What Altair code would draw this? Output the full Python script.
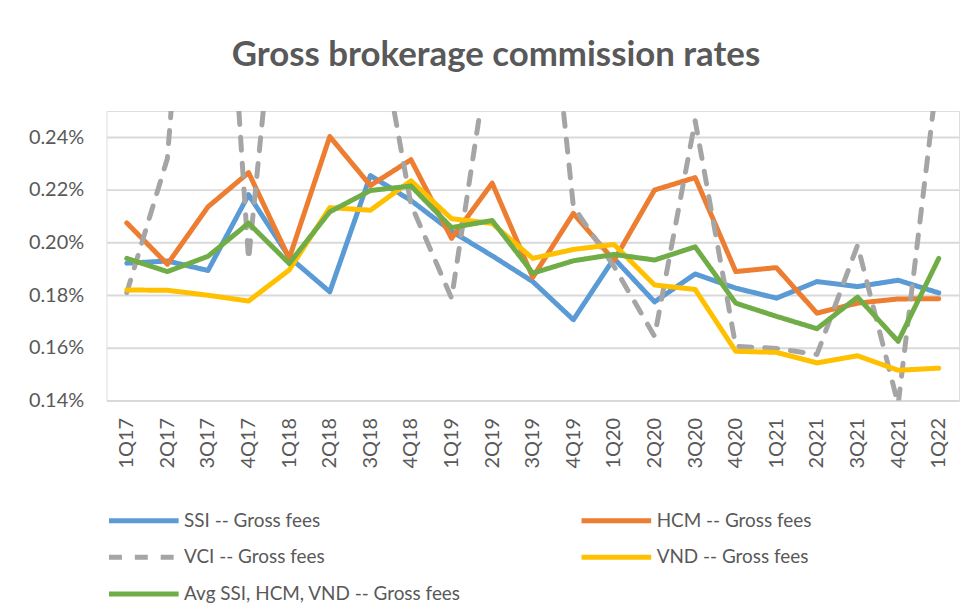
import altair as alt
import pandas as pd

FONT = "Lato"
TEXT = "#595959"

quarters = ["1Q17", "2Q17", "3Q17", "4Q17", "1Q18", "2Q18", "3Q18", "4Q18",
            "1Q19", "2Q19", "3Q19", "4Q19", "1Q20", "2Q20", "3Q20", "4Q20",
            "1Q21", "2Q21", "3Q21", "4Q21", "1Q22"]

series_names = ["SSI -- Gross fees", "HCM -- Gross fees", "VCI -- Gross fees",
                "VND -- Gross fees", "Avg SSI, HCM, VND -- Gross fees"]

# values in percent
ssi = [0.1922, 0.1930, 0.1894, 0.2182, 0.1945, 0.1813, 0.2255, 0.2160, 0.2043, 0.1950, 0.1852,
       0.1707, 0.1940, 0.1775, 0.1881, 0.1827, 0.1789, 0.1852, 0.1833, 0.1857, 0.1809]
hcm = [0.2075, 0.1918, 0.2136, 0.2266, 0.1940, 0.2403, 0.2217, 0.2315, 0.2016, 0.2226, 0.1868,
       0.2111, 0.1932, 0.2200, 0.2247, 0.1890, 0.1905, 0.1732, 0.1770, 0.1786, 0.1787]
vci = [0.1810, 0.2320, 0.4300, 0.1934, 0.3500, 0.3200, 0.3000, 0.2145, 0.1789, 0.2800, 0.3620,
       0.2137, 0.1910, 0.1644, 0.2463, 0.1606, 0.1598, 0.1575, 0.1990, 0.1385, 0.2680]
vnd = [0.1820, 0.1819, 0.1800, 0.1778, 0.1896, 0.2133, 0.2123, 0.2235, 0.2091, 0.2073, 0.1940,
       0.1974, 0.1993, 0.1839, 0.1822, 0.1587, 0.1583, 0.1543, 0.1570, 0.1515, 0.1523]
avg = [0.1940, 0.1890, 0.1948, 0.2074, 0.1921, 0.2117, 0.2198, 0.2215, 0.2057, 0.2084, 0.1884,
       0.1931, 0.1955, 0.1934, 0.1984, 0.1770, 0.1720, 0.1673, 0.1793, 0.1625, 0.1940]

y_ticks = [0.14, 0.16, 0.18, 0.20, 0.22, 0.24]

colors = ["#5B9BD5", "#ED7D31", "#A5A5A5", "#FFC000", "#70AD47"]
dashes = [[1, 0], [1, 0], [13, 13], [1, 0], [1, 0]]

all_values = [ssi, hcm, vci, vnd, avg]
rows = []
for name, vals in zip(series_names, all_values):
    for q, v in zip(quarters, vals):
        rows.append({"quarter": q, "series": name, "value": v})
df = pd.DataFrame(rows)

# long horizontal stroke as a custom symbol path (unit coords, scaled by sqrt(size)/2)
legend = alt.Legend(
    title=None, orient="none", legendX=25, legendY=399, direction="horizontal",
    columns=2, columnPadding=110, rowPadding=14, padding=0,
    symbolType="M-3.5,0H3.5", symbolSize=400, symbolStrokeWidth=5,
    labelFont=FONT, labelFontSize=19, labelColor=TEXT, labelOffset=28, labelLimit=500,
)

x_enc = alt.X("quarter:N", sort=quarters,
              scale=alt.Scale(type="point", padding=0.5),
              axis=alt.Axis(title=None, labelAngle=-90, labelFont=FONT, labelFontSize=20,
                            labelColor=TEXT, ticks=False, domain=False, grid=False,
                            labelPadding=17))
y_enc = alt.Y("value:Q",
              scale=alt.Scale(domain=[0.14, 0.25], nice=False, zero=False),
              axis=alt.Axis(title=None, values=y_ticks,
                            labelExpr="format(datum.value, '.2f') + '%'",
                            labelFont=FONT, labelFontSize=20, labelColor=TEXT,
                            ticks=False, domain=False, grid=True,
                            gridColor="#D9D9D9", gridWidth=2, labelPadding=23))
color_enc = alt.Color("series:N", scale=alt.Scale(domain=series_names, range=colors), legend=legend)
dash_enc = alt.StrokeDash("series:N", scale=alt.Scale(domain=series_names, range=dashes), legend=legend)

layers = []
for name in series_names:
    layers.append(
        alt.Chart(df)
        .transform_filter(alt.datum.series == name)
        .mark_line(strokeWidth=5, clip=True, strokeJoin="round", strokeCap="round")
        .encode(x=x_enc, y=y_enc, color=color_enc, strokeDash=dash_enc)
    )

chart = alt.layer(*layers).properties(
    width=857, height=291,
    title=alt.TitleParams("Gross brokerage commission rates", font=FONT, fontSize=35,
                          fontWeight="bold", color=TEXT, anchor="middle", frame="group",
                          dx=-37, offset=10, baseline="alphabetic"),
    autosize=alt.AutoSizeParams(type="none"),
    padding={"left": 99, "top": 102, "right": 12, "bottom": 212},
).configure_view(stroke=None).configure(background="white")

chart.save("out.html", embed_options={"renderer": "svg", "actions": False})
